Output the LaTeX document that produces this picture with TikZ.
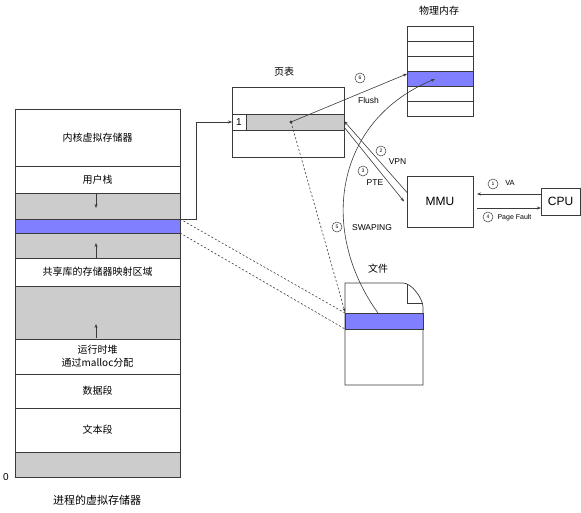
\documentclass[tikz,border=0pt]{standalone}
\usepackage{fontspec}
\setmainfont{Liberation Sans}
\newfontfamily\cjk{Noto Sans CJK SC}
\usetikzlibrary{arrows.meta}
\definecolor{gfill}{HTML}{CCCCCC}
\definecolor{bfill}{HTML}{7F7FFF}
\definecolor{ln}{HTML}{3A3A3A}
\begin{document}
\begin{tikzpicture}[x=1pt,y=-1pt,
  seg/.style={draw=ln, line width=0.7pt, minimum width=165pt, inner sep=0pt, outer sep=0pt, align=center, font=\cjk\fontsize{10}{13}\selectfont},
  box/.style={draw=ln, line width=0.7pt, inner sep=0pt, outer sep=0pt},
  sarrow/.style={-{Stealth[length=4pt,width=3pt]}},
  dsh/.style={draw=ln, line width=0.6pt, dash pattern=on 2pt off 2pt},
  numc/.style={circle, draw=ln, line width=0.5pt, minimum size=10pt, inner sep=0pt, font=\fontsize{5}{5}\selectfont},
  lbl/.style={inner sep=0pt, font=\fontsize{8.5}{10}\selectfont},
  cjklbl/.style={inner sep=0pt, font=\cjk\fontsize{10}{12}\selectfont}
]
\useasboundingbox (0,0) rectangle (581,512);

% ---- left stack ----
\node[seg, minimum height=57pt] (kernel) at (97.5,137.5) {内核虚拟存储器};
\node[seg, minimum height=27pt] (ustack) at (97.5,179.5) {用户栈};
\node[seg, minimum height=26pt, fill=gfill] (gray1) at (97.5,206) {};
\node[seg, minimum height=14pt, fill=bfill] (blue) at (97.5,226) {};
\node[seg, minimum height=25pt, fill=gfill] (gray2) at (97.5,245.5) {};
\node[seg, minimum height=28pt] (shlib) at (97.5,272) {共享库的存储器映射区域};
\node[seg, minimum height=53pt, fill=gfill] (gray3) at (97.5,312.5) {};
\node[seg, minimum height=35pt] (heap) at (97.5,356.5) {运行时堆\\通过malloc分配};
\node[seg, minimum height=34pt] (data) at (97.5,391) {数据段};
\node[seg, minimum height=44pt] (text) at (97.5,430) {文本段};
\node[seg, minimum height=25pt, fill=gfill] (gray4) at (97.5,464.5) {};
\node[inner sep=0pt, font=\fontsize{10}{12}\selectfont] (zero) at (6,477) {0};
\node[inner sep=0pt, font=\cjk\fontsize{11}{13}\selectfont] (vmlabel) at (97,500) {进程的虚拟存储器};

\draw[ln, line width=0.6pt, sarrow] (gray1.north) ++(-1.5,1) -- ++(0,14);
\draw[ln, line width=0.6pt, sarrow] (gray2.south) ++(-1.5,0) -- ++(0,-15);
\draw[ln, line width=0.6pt, sarrow] (gray3.south) ++(-1.5,-1) -- ++(0,-14);

% ---- page table ----
\node[box, minimum width=112pt, minimum height=70pt] (pt) at (288,122) {};
\node[box, fill=gfill, minimum width=112pt, minimum height=16pt] (ptrow) at (288,122) {};
\node[box, fill=white, minimum width=14pt, minimum height=16pt, font=\fontsize{10}{12}\selectfont] (cell1) at (239,122) {1};
\node[cjklbl] (ptlabel) at (284,72) {页表};
\coordinate (ptdot) at (291,122);
\fill[ln] (ptdot) circle (1.6pt);

% ---- physical memory ----
\foreach \i/\c in {1/white,2/white,3/white,4/bfill,5/white,6/white}
  \node[box, fill=\c, minimum width=66pt, minimum height=15pt] (pm\i) at (440,{18.5+15*\i}) {};
\node[cjklbl] (pmlabel) at (439,11) {物理内存};

% ---- MMU / CPU ----
\node[box, minimum width=66pt, minimum height=51pt, font=\fontsize{12}{14}\selectfont] (mmu) at (440,201.5) {MMU};
\node[box, minimum width=39pt, minimum height=27pt, font=\fontsize{12}{14}\selectfont] (cpu) at (560.5,201.5) {CPU};

% ---- file ----
\draw[ln, line width=0.7pt] (345,283) -- (403,283) .. controls (412,283) and (423,299) .. (423,307) -- (423,385) -- (345,385) -- cycle;
\draw[ln, line width=0.7pt] (407,284) -- (407,303) -- (423,303);
\node[box, fill=bfill, minimum width=78pt, minimum height=16pt] (fileblue) at (384,321) {};
\node[cjklbl] (filelabel) at (378,269) {文件};

% ---- connectors ----
\draw[ln, line width=0.7pt, sarrow] (blue.north east) -- ++(16,0) |- (cell1.west);
\draw[dsh] (blue.north east) -- (fileblue.north west);
\draw[dsh] (blue.south east) -- (fileblue.south west);
\draw[dsh, sarrow] (ptdot) -- ([yshift=1pt]fileblue.north west);

\draw[ln, line width=0.6pt, sarrow] (ptdot) -- (pm4.172);
\node[numc] (c6) at (360,78) {6};
\node[lbl] (flush) at (368.5,100) {Flush};

\draw[ln, line width=0.6pt, sarrow] ([yshift=9pt]mmu.west) -- ([yshift=1pt]ptrow.east);
\draw[ln, line width=0.6pt, sarrow] ([yshift=-5pt]ptrow.east) -- ([xshift=-3pt]mmu.west);
\node[numc] (c2) at (381,151) {2};
\node[lbl] (vpn) at (397.5,162) {VPN};
\node[numc] (c3) at (363,171) {3};
\node[lbl] (pte) at (375,183) {PTE};

\draw[ln, line width=0.6pt, sarrow] ([xshift=-6pt]fileblue.north) .. controls (318,230) and (335,120) .. ([xshift=-5pt,yshift=-0.5pt]pm4.center);
\node[numc] (c5) at (337,227) {5};
\node[lbl] (swap) at (372,228) {SWAPING};

\draw[ln, line width=0.6pt, sarrow] ([yshift=7.5pt]cpu.west) -- ([xshift=4pt,yshift=7.5pt]mmu.east);
\draw[ln, line width=0.6pt, sarrow] ([xshift=4pt,yshift=-6.5pt]mmu.east) -- ([yshift=-6.5pt]cpu.west);
\node[numc] (c1) at (493,184) {1};
\node[lbl, font=\fontsize{7.5}{9}\selectfont] (va) at (510,183) {VA};
\node[numc] (c4) at (488,217) {4};
\node[lbl, font=\fontsize{7}{9}\selectfont] (pf) at (514.5,218) {Page Fault};
\end{tikzpicture}
\end{document}
